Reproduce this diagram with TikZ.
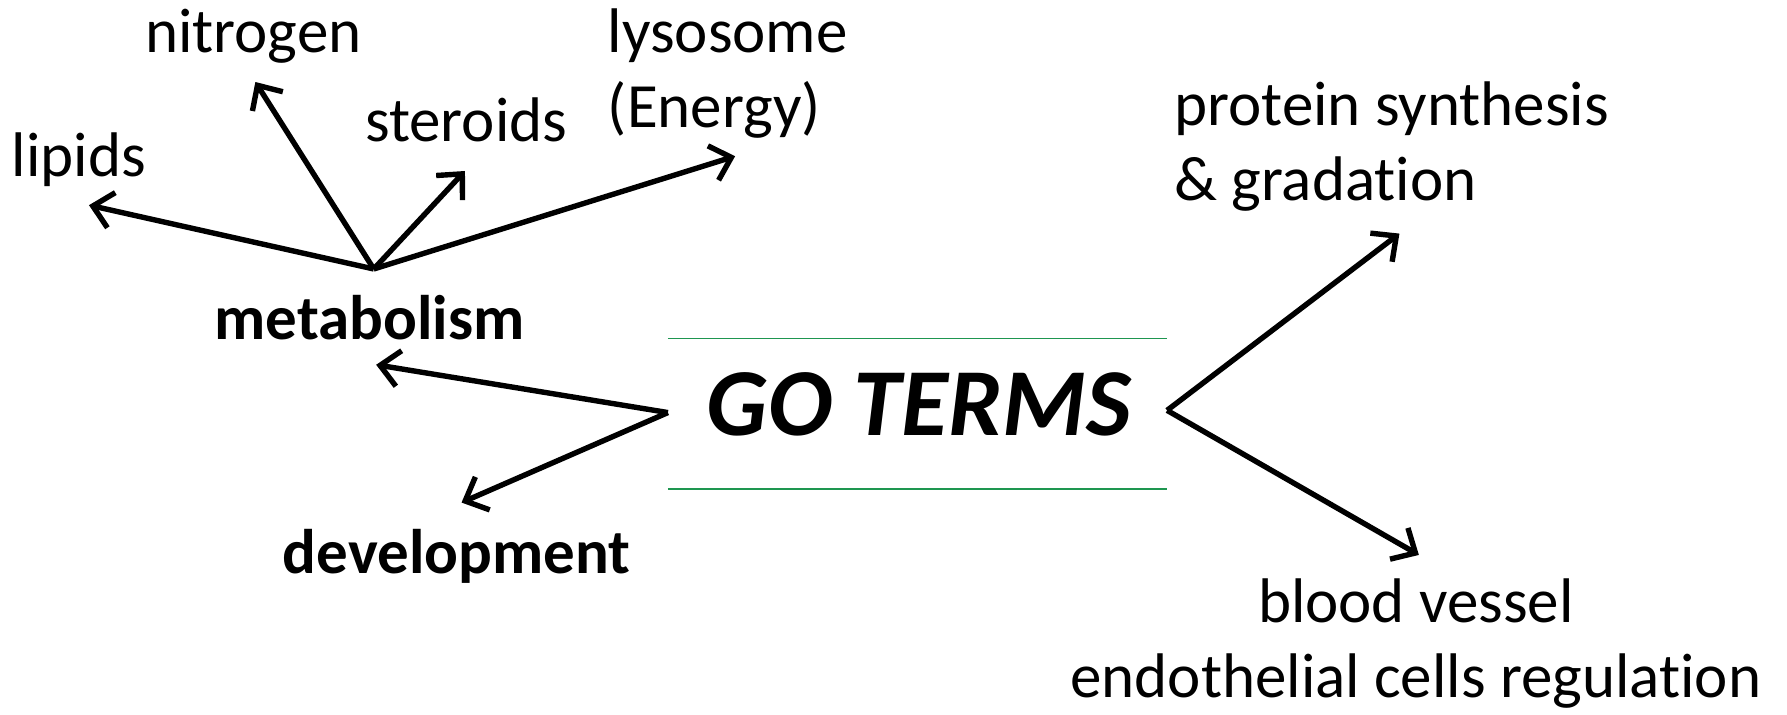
\documentclass[tikz,border=0pt]{standalone}
\usepackage{fontspec}
\setmainfont{Carlito}[Ligatures=NoCommon]
\usepackage{tikz}
\definecolor{gl}{RGB}{30, 150, 80}
\usetikzlibrary{arrows.meta}

\begin{document}
\begin{tikzpicture}[
  every node/.style={inner sep=0pt, font=\fontsize{31.5}{37.6}\selectfont},
  term/.style={anchor=base west},
  arr/.style={line width=2.7pt, -{Straight Barb[length=9.5pt, width=18pt, line width=2.7pt]}}]
\useasboundingbox (0pt, 0pt) rectangle (893.6pt, -357.3pt);
% labels
\node (nitrogen) [term] at (72.4pt, -26.2pt) {nitrogen};
\node (lysosome) [term, align=left] at (303.8pt, -63.8pt) {lysosome\\(Energy)};
\node (steroids) [term] at (182.4pt, -70.7pt) {steroids};
\node (lipids) [term] at (5.7pt, -88.3pt) {lipids};
\node (metabolism) [term, font=\fontsize{31.5}{37.6}\selectfont\bfseries] at (107.1pt, -169.8pt) {metabolism};
\node (development) [term, font=\fontsize{31.5}{37.6}\selectfont\bfseries] at (141.3pt, -286.7pt) {development};
\node (go) [term, font=\fontsize{48}{56}\selectfont\bfseries\itshape] at (353.3pt, -217.7pt) {GO TERMS};
\node (protein) [term, align=left] at (587.0pt, -100.3pt) {protein synthesis\\\& gradation};
\node (blood) [anchor=base, align=center] at (708.0pt, -348.8pt) {blood vessel\\endothelial cells regulation};
% arrow ends
\coordinate (m) at (186.9pt, -134.5pt);
\coordinate (gl) at (334.0pt, -206.3pt);
\coordinate (gr) at (583.6pt, -205.2pt);
\coordinate (t1) at (44.5pt, -102.6pt);
\coordinate (t2) at (127.7pt, -41.0pt);
\coordinate (t3) at (232.5pt, -85.5pt);
\coordinate (t4) at (367.6pt, -78.1pt);
\coordinate (t5) at (188.1pt, -182.4pt);
\coordinate (t6) at (230.8pt, -251.3pt);
\coordinate (t7) at (699.8pt, -116.8pt);
\coordinate (t8) at (709.5pt, -277.5pt);
% green rules
\draw [line width=0.7pt, color=gl] (334.0pt, -169.3pt) -- (583.6pt, -169.3pt);
\draw [line width=0.7pt, color=gl] (334.0pt, -244.5pt) -- (583.6pt, -244.5pt);
\draw [arr] (m) -- (t1);
\draw [arr] (m) -- (t2);
\draw [arr] (m) -- (t3);
\draw [arr] (m) -- (t4);
\draw [arr] (gl) -- (t5);
\draw [arr] (gl) -- (t6);
\draw [arr] (gr) -- (t7);
\draw [arr] (gr) -- (t8);
\end{tikzpicture}
\end{document}
